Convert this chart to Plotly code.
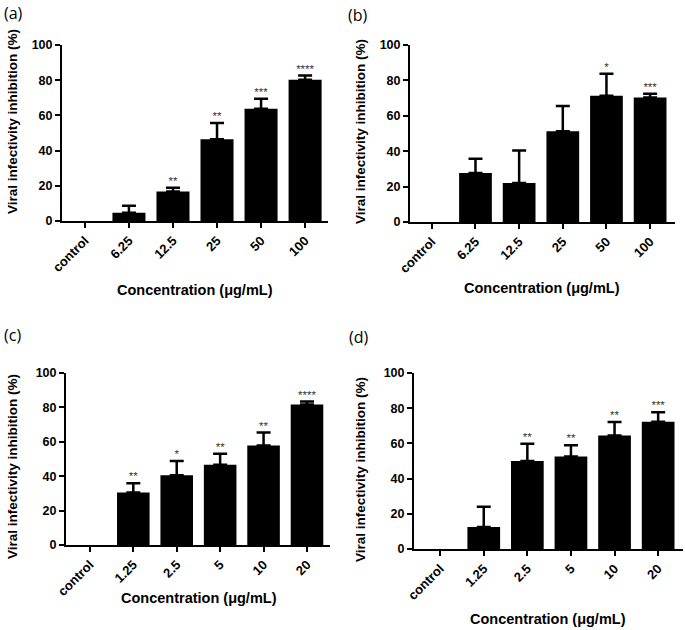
import plotly.graph_objects as go

# Data (mean and upper SD per concentration)
cats_ab = ["control", "6.25", "12.5", "25", "50", "100"]
cats_cd = ["control", "1.25", "2.5", "5", "10", "20"]

mean_a = [0, 4.7, 16.7, 46.4, 63.8, 80.3]
sd_a = [0, 4.0, 2.2, 9.3, 5.7, 2.3]
stars_a = ["", "", "**", "**", "***", "****"]

mean_b = [0, 27.7, 22.1, 51.3, 71.3, 70.4]
sd_b = [0, 8.1, 18.3, 14.2, 12.5, 2.1]
stars_b = ["", "", "", "", "*", "***"]

mean_c = [0, 30.5, 40.5, 46.7, 57.9, 81.7]
sd_c = [0, 5.4, 8.3, 6.4, 7.5, 1.7]
stars_c = ["", "**", "*", "**", "**", "****"]

mean_d = [0, 12.5, 50.0, 52.5, 64.5, 72.3]
sd_d = [0, 11.5, 9.8, 6.4, 7.6, 5.4]
stars_d = ["", "", "**", "**", "**", "***"]

FONT = "Liberation Sans"
W, H = 685, 630


def px(x):
    return x / W


def py(y):
    return 1 - y / H


# panel: data, label, plot box in page px (left, right, top, bottom), x-range,
# label pos, y-title pos, x-title pos
panels = [
    (cats_ab, mean_a, sd_a, stars_a, "(a)", (62, 328, 45, 221), [-0.52, 5.52],
     (2, 13), (13, 122), (195, 290)),
    (cats_ab, mean_b, sd_b, stars_b, "(b)", (410, 675, 45, 222), [-0.5, 5.57],
     (346, 15), (360, 132), (542, 288)),
    (cats_cd, mean_c, sd_c, stars_c, "(c)", (66, 330, 373, 545), [-0.55, 5.53],
     (2, 335), (12, 467), (199, 598)),
    (cats_cd, mean_d, sd_d, stars_d, "(d)", (414, 683, 373, 549), [-0.6, 5.57],
     (347, 337), (360, 470), (548, 619)),
]

fig = go.Figure()
annotations = []

for i, (cats, mean, sd, stars, label, box, xr, lpos, ytpos, xtpos) in enumerate(panels):
    n = "" if i == 0 else str(i + 1)
    xa, ya = "x" + n, "y" + n
    # control bar sits at zero: leave it empty so no error cap is drawn on the axis
    fig.add_trace(go.Bar(
        x=cats, y=[m if m > 0 else None for m in mean], xaxis=xa, yaxis=ya, width=0.75,
        marker=dict(color="black", line=dict(width=0)),
        error_y=dict(type="data", symmetric=False, array=sd, arrayminus=[0] * len(sd),
                     color="black", thickness=2.5, width=7),
        showlegend=False,
    ))
    tops = [m + s if m > 0 else None for m, s in zip(mean, sd)]
    fig.add_trace(go.Scatter(
        x=cats, y=tops, xaxis=xa, yaxis=ya, mode="text", text=stars,
        textposition="top center", textfont=dict(family=FONT, size=11.5, color="#333"),
        cliponaxis=False, showlegend=False,
    ))
    axis_common = dict(showline=True, linecolor="black", linewidth=2, ticks="outside",
                       ticklen=5, tickwidth=2, tickcolor="black", showgrid=False, zeroline=False,
                       automargin=False)
    fig.update_layout({
        "xaxis" + n: dict(domain=[px(box[0]), px(box[1])], anchor=ya, range=xr, type="category",
                          tickangle=-45,
                          tickfont=dict(family=FONT, size=13, color="black", weight="bold"),
                          **axis_common),
        "yaxis" + n: dict(domain=[py(box[3]), py(box[2])], anchor=xa, range=[0, 100],
                          tickvals=[0, 20, 40, 60, 80, 100],
                          tickfont=dict(family=FONT, size=12.5, color="black", weight="bold"),
                          **axis_common),
    })
    annotations.append(dict(x=px(lpos[0]), y=py(lpos[1]), xref="paper", yref="paper",
                            text=label, showarrow=False, xanchor="left", yanchor="middle",
                            font=dict(family="Open Sans", size=16, color="black")))
    annotations.append(dict(x=px(ytpos[0]), y=py(ytpos[1]), xref="paper", yref="paper",
                            text="Viral infectivity inhibition (%)", textangle=-90, showarrow=False,
                            xanchor="center", yanchor="middle",
                            font=dict(family=FONT, size=13.5, color="black", weight="bold")))
    annotations.append(dict(x=px(xtpos[0]), y=py(xtpos[1]), xref="paper", yref="paper",
                            text="Concentration (\u03bcg/mL)", showarrow=False,
                            xanchor="center", yanchor="middle",
                            font=dict(family=FONT, size=14.5, color="black", weight="bold")))

fig.update_layout(
    width=W, height=H, margin=dict(l=0, r=0, t=0, b=0, autoexpand=False),
    paper_bgcolor="white", plot_bgcolor="white", bargap=0.25,
    annotations=annotations,
)

# drop the default 8px page margin so the figure starts at the window corner
fig.write_html("out.html", config={"displayModeBar": False},
               post_script="document.body.style.margin='0';")
